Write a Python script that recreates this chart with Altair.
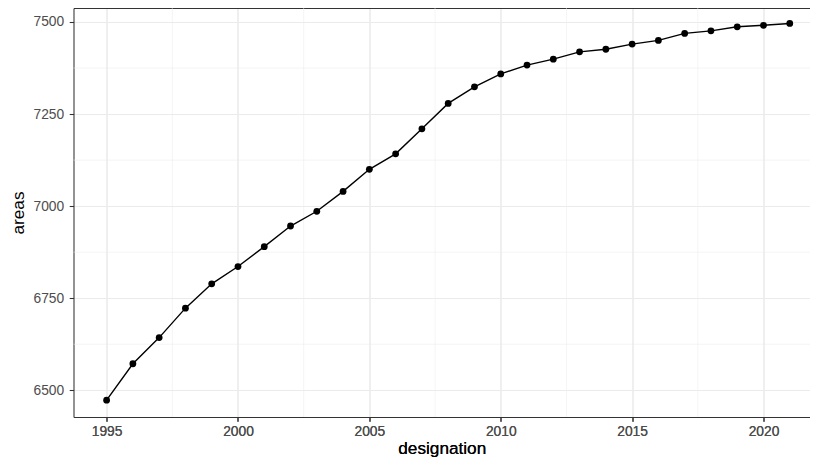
import altair as alt
import pandas as pd

designation = [1995, 1996, 1997, 1998, 1999, 2000, 2001, 2002, 2003, 2004,
               2005, 2006, 2007, 2008, 2009, 2010, 2011, 2012, 2013, 2014,
               2015, 2016, 2017, 2018, 2019, 2020, 2021]
areas = [6473, 6572, 6643, 6723, 6789, 6836, 6890, 6946, 6986, 7040,
         7100, 7142, 7210, 7279, 7324, 7359, 7383, 7399, 7419, 7426,
         7440, 7450, 7469, 7476, 7487, 7491, 7496]
x_ticks = [1995, 2000, 2005, 2010, 2015, 2020]
y_ticks = [6500, 6750, 7000, 7250, 7500]
x_minor = [1997.5, 2002.5, 2007.5, 2012.5, 2017.5]
y_minor = [6625, 6875, 7125, 7375]

FONT = "Liberation Sans"
LEFT = 65.5
W, H = 736.5, 409
BORDER = "#333333"
GRID = "#ebebeb"

df = pd.DataFrame({"designation": designation, "areas": areas})

xscale = alt.Scale(domain=[1993.74, 2021.77], nice=False, zero=False)
yscale = alt.Scale(domain=[6427.4, 7538], nice=False, zero=False)

xaxis = alt.Axis(values=x_ticks, format="d", grid=True, gridColor=GRID,
                 gridWidth=1.07, domain=True, domainColor=BORDER,
                 domainWidth=1.07, ticks=True, tickColor=BORDER,
                 tickSize=4.3, tickWidth=1.07, labelColor="#4d4d4d",
                 labelFontSize=13.8, labelPadding=3.5, labelFont=FONT,
                 titleFont=FONT, titleFontSize=17.2, titleColor="black",
                 titleFontWeight="normal", titleY=36,
                 titleBaseline="alphabetic", title="designation")
xaxis_top = alt.Axis(orient="top", grid=False, labels=False, ticks=False,
                     domain=True, domainColor=BORDER, domainWidth=1.07,
                     title=None)
yaxis = alt.Axis(values=y_ticks, format="d", grid=True, gridColor=GRID,
                 gridWidth=1.07, domain=True, domainColor=BORDER,
                 domainWidth=1.07, ticks=True, tickColor=BORDER,
                 tickSize=4.3, tickWidth=1.07, labelColor="#4d4d4d",
                 labelFontSize=13.8, labelPadding=5.5, labelFont=FONT,
                 titleFont=FONT, titleFontSize=17.2, titleColor="black",
                 titleFontWeight="normal", titleX=-55, titleY=H / 2,
                 titleAngle=270, titleBaseline="middle", titleAlign="center",
                 title="areas")

x_enc = alt.X("designation:Q", scale=xscale, axis=xaxis)
y_enc = alt.Y("areas:Q", scale=yscale, axis=yaxis)

minor_x = alt.Chart(pd.DataFrame({"designation": x_minor})).mark_rule(
    color=GRID, strokeWidth=0.55).encode(
    x=alt.X("designation:Q", scale=xscale, axis=xaxis_top))
minor_y = alt.Chart(pd.DataFrame({"areas": y_minor})).mark_rule(
    color=GRID, strokeWidth=0.55).encode(y=y_enc)

base = alt.Chart(df).encode(x=x_enc, y=y_enc)
line = base.mark_line(color="black", strokeWidth=1.4)
pts = base.mark_point(filled=True, color="black", size=46, opacity=1)

chart = alt.layer(minor_x, minor_y, line, pts).resolve_axis(
    x="independent"
).properties(
    width=W, height=H,
    autosize=alt.AutoSizeParams(type="none"),
    padding={"left": LEFT, "top": 0, "right": 0, "bottom": 41},
).configure_view(strokeWidth=0)

chart.save("out.html", embed_options={"renderer": "svg", "actions": False})
